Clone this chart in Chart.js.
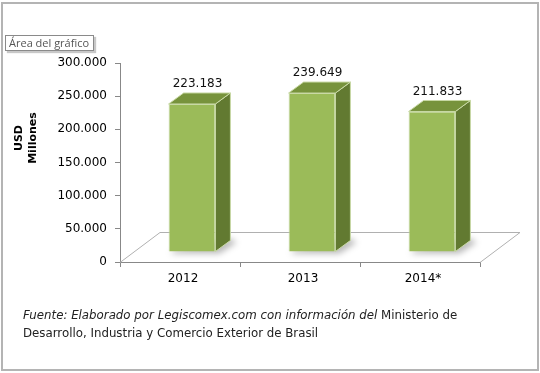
<!DOCTYPE html>
<html lang="es">
<head>
  <meta charset="UTF-8" />
  <title>Exportaciones - USD Millones</title>
  <script src="https://cdn.jsdelivr.net/npm/chart.js"></script>
  <style>
    body { margin: 0; background: #fff; }
    .wrap { position: relative; width: 540px; height: 373px; }
    .frame {
      position: absolute; left: 1px; top: 2px; width: 534px; height: 365px;
      border: 2px solid #b4b4b4;
    }
    .tip {
      position: absolute; left: 5px; top: 35px; width: 84px; height: 14px;
      border: 1px solid #8a8a8a; background: #fff;
      box-shadow: 2px 2px 1px #c8c8c8;
      font: 11px "Open Sans", sans-serif; color: #555; line-height: 14px;
      padding-left: 3px; white-space: nowrap;
    }
    .source {
      position: absolute; left: 23px; top: 306px;
      font: 11.8px "DejaVu Sans", sans-serif; color: #222; line-height: 18px;
    }
    canvas { position: absolute; left: 0; top: 0; }
  </style>
</head>
<body>
<div class="wrap">
  <canvas id="barChart" width="540" height="373"></canvas>
  <div class="frame"></div>
  <div class="tip">Área del gráfico</div>
  <div class="source"><i>Fuente: Elaborado por Legiscomex.com con información del</i> Ministerio de<br>Desarrollo, Industria y Comercio Exterior de Brasil</div>
</div>

<script>
  const years = ["2012", "2013", "2014*"];
  const values = [223183, 239649, 211833];
  const yTicks = [0, 50000, 100000, 150000, 200000, 250000, 300000];
  const axisTitle = ["USD", "Millones"];

  // 3D look: where the bars sit on the floor and how deep they are
  const floorDepth = { x: 40, y: -30 };
  const barShift = { x: 12, y: -10 };
  const barDepth = { x: 15, y: -11 };

  const fmt = v => v.toLocaleString("de-DE");

  const fake3d = {
    id: "fake3d",
    beforeDatasetsDraw(chart) {
      const ctx = chart.ctx;
      const a = chart.chartArea;
      ctx.save();
      ctx.strokeStyle = "#b0b0b0";
      ctx.lineWidth = 1;
      ctx.beginPath();
      ctx.moveTo(a.left, a.bottom + 0.5);
      ctx.lineTo(a.left + floorDepth.x, a.bottom + floorDepth.y + 0.5);
      ctx.lineTo(a.right + floorDepth.x, a.bottom + floorDepth.y + 0.5);
      ctx.lineTo(a.right, a.bottom + 0.5);
      ctx.stroke();
      ctx.restore();

      ctx.save();
      ctx.translate(barShift.x, barShift.y);
      // soft shadow on the floor
      chart.getDatasetMeta(0).data.forEach(bar => {
        const l = bar.x - bar.width / 2, r = bar.x + bar.width / 2;
        ctx.save();
        ctx.filter = "blur(3px)";
        ctx.fillStyle = "rgba(0,0,0,0.28)";
        ctx.beginPath();
        ctx.moveTo(l + 2, bar.base + 2);
        ctx.lineTo(r + 4, bar.base + 2);
        ctx.lineTo(r + barDepth.x + 6, bar.base + barDepth.y + 2);
        ctx.lineTo(r + barDepth.x, bar.base + barDepth.y - 2);
        ctx.lineTo(l + 6, bar.base - 2);
        ctx.closePath();
        ctx.fill();
        ctx.restore();
      });
    },
    afterDatasetsDraw(chart) {
      const ctx = chart.ctx;
      const meta = chart.getDatasetMeta(0);
      meta.data.forEach(bar => {
        const l = bar.x - bar.width / 2, r = bar.x + bar.width / 2;
        const t = bar.y, b = bar.base;
        ctx.strokeStyle = "#c9d9a6";
        ctx.lineWidth = 1;
        // side
        ctx.fillStyle = "#627a31";
        ctx.beginPath();
        ctx.moveTo(r, t);
        ctx.lineTo(r + barDepth.x, t + barDepth.y);
        ctx.lineTo(r + barDepth.x, b + barDepth.y);
        ctx.lineTo(r, b);
        ctx.closePath();
        ctx.fill();
        ctx.stroke();
        // top
        ctx.fillStyle = "#77933c";
        ctx.beginPath();
        ctx.moveTo(l, t);
        ctx.lineTo(l + barDepth.x, t + barDepth.y);
        ctx.lineTo(r + barDepth.x, t + barDepth.y);
        ctx.lineTo(r, t);
        ctx.closePath();
        ctx.fill();
        ctx.stroke();
      });
      ctx.restore();

      // value labels
      ctx.save();
      ctx.font = "12px 'DejaVu Sans'";
      ctx.fillStyle = "#111";
      ctx.textAlign = "center";
      ctx.textBaseline = "middle";
      meta.data.forEach((bar, i) => {
        ctx.fillText(fmt(values[i]), bar.x + barShift.x + barDepth.x / 2 - 2, bar.y + barShift.y + barDepth.y - 9);
      });
      ctx.restore();
    },
    afterDraw(chart) {
      const ctx = chart.ctx;
      ctx.save();
      ctx.font = "bold 11px 'DejaVu Sans'";
      ctx.fillStyle = "#000";
      ctx.textAlign = "center";
      ctx.textBaseline = "middle";
      ctx.translate(0, 138);
      ctx.rotate(-Math.PI / 2);
      ctx.fillText(axisTitle[0], 0, 19);
      ctx.fillText(axisTitle[1], 0, 33);
      ctx.restore();
    }
  };

  new Chart(document.getElementById("barChart"), {
    type: "bar",
    data: {
      labels: years,
      datasets: [{
        data: values,
        backgroundColor: "#9bbb59",
        borderColor: "#c9d9a6",
        borderWidth: 1,
        barPercentage: 0.39,
        categoryPercentage: 1
      }]
    },
    options: {
      responsive: false,
      animation: false,
      layout: { padding: { left: 0, top: 63, right: 60, bottom: 91 } },
      plugins: {
        legend: { display: false },
        tooltip: { enabled: false }
      },
      scales: {
        x: {
          afterFit: s => { s.height = 20; },
          grid: { drawOnChartArea: false, tickLength: 5, color: "#888" },
          border: { color: "#888" },
          ticks: {
            color: "#000",
            padding: 5,
            labelOffset: 3,
            font: { family: "DejaVu Sans", size: 12 }
          }
        },
        y: {
          min: 0,
          max: 300000,
          afterFit: s => { s.width = 120; },
          afterBuildTicks: s => { s.ticks = yTicks.map(v => ({ value: v })); },
          grid: { drawOnChartArea: false, tickLength: 5, color: "#888" },
          border: { color: "#888" },
          ticks: {
            color: "#000",
            padding: 8,
            font: { family: "DejaVu Sans", size: 12 },
            callback: v => fmt(v)
          }
        }
      }
    },
    plugins: [fake3d]
  });
</script>
</body>
</html>
